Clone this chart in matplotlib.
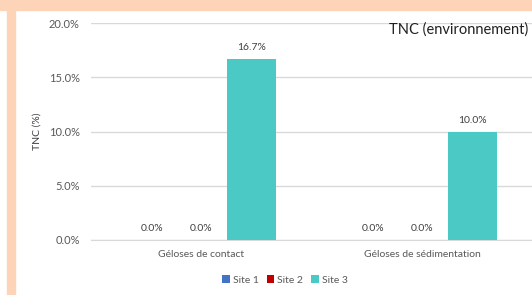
import numpy as np
import matplotlib.pyplot as plt
from matplotlib.patches import Rectangle

categories = ["Géloses de contact", "Géloses de sédimentation"]
sites = ["Site 1", "Site 2", "Site 3"]
site1 = [0.0, 0.0]
site2 = [0.0, 0.0]
site3 = [16.7, 10.0]
colors = ["#4472C4", "#C00000", "#4BC9C5"]

plt.rcParams['font.family'] = ['Lato', 'DejaVu Sans']

fig = plt.figure(figsize=(5.32, 2.95), dpi=100)
W, H = 532, 295

# peach frame on top and left
fig.patches.append(Rectangle((0, (H - 10) / H), 1, 10 / H, transform=fig.transFigure,
                             color="#FDD4B8", zorder=0))
fig.patches.append(Rectangle((7 / W, 0), 8 / W, 1, transform=fig.transFigure,
                             color="#FDD4B8", zorder=0))

ax = fig.add_axes([91 / W, (H - 240) / H, 442 / W, 217 / H])
ax.set_facecolor("white")

x = np.arange(len(categories))
w = 0.225
for i, (vals, name) in enumerate(zip([site1, site2, site3], sites)):
    bars = ax.bar(x + (i - 1) * w, vals, w * 0.99, color=colors[i], label=name, zorder=3)
    for b, v in zip(bars, vals):
        ax.text(b.get_x() + b.get_width() / 2, v + 0.6, f"{v:.1f}%", ha="center",
                va="bottom", fontsize=7.5, color="#404040")

ax.set_xlim(-0.5, 1.5)
ax.set_ylim(0, 20)
ax.set_yticks([0, 5, 10, 15, 20])
ax.set_yticklabels([f"{t:.1f}%" for t in [0, 5, 10, 15, 20]])
ax.set_xticks(x)
ax.set_xticklabels(categories)
ax.tick_params(axis="both", length=0, labelsize=7.5, colors="#595959")
ax.tick_params(axis="y", labelsize=8, pad=8)
ax.tick_params(axis="x", pad=7)
ax.grid(axis="y", color="#D9D9D9", linewidth=1, zorder=0)
for s in ["top", "right", "left"]:
    ax.spines[s].set_visible(False)
ax.spines["bottom"].set_color("#D9D9D9")

ax.set_ylabel("TNC (%)", fontsize=7.5, color="#404040", labelpad=5)

fig.text(528 / W, (H - 30) / H, "TNC (environnement)", ha="right", va="center",
         fontsize=10.5, color="#202020")

ax.legend(loc="center", bbox_to_anchor=(285 / W, (H - 280) / H),
          bbox_transform=fig.transFigure, ncol=3, frameon=False, fontsize=7.5,
          handlelength=0.7, handleheight=0.7, handletextpad=0.3, columnspacing=0.8,
          labelcolor="#595959")

fig.savefig("out.png", dpi=100)
